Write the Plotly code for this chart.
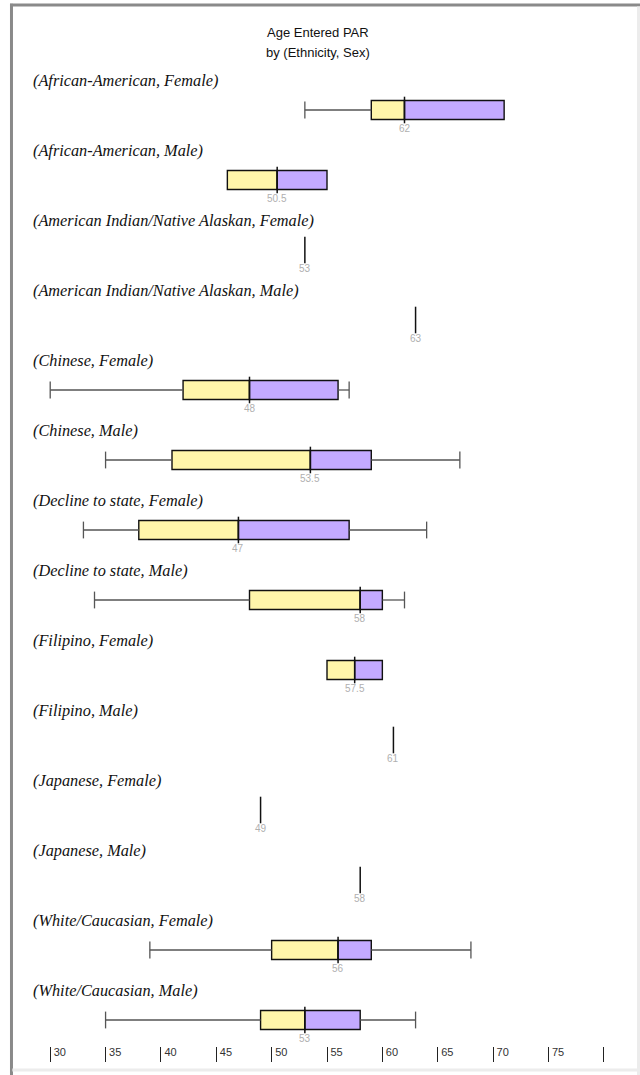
import plotly.graph_objects as go

groups = [
    "(African-American, Female)", "(African-American, Male)",
    "(American Indian/Native Alaskan, Female)", "(American Indian/Native Alaskan, Male)",
    "(Chinese, Female)", "(Chinese, Male)",
    "(Decline to state, Female)", "(Decline to state, Male)",
    "(Filipino, Female)", "(Filipino, Male)",
    "(Japanese, Female)", "(Japanese, Male)",
    "(White/Caucasian, Female)", "(White/Caucasian, Male)",
]
mins    = [53, 46,   53, 63, 30, 35,   33, 34, 55,   61, 49, 58, 39, 35]
q1s     = [59, 46,   53, 63, 42, 41,   38, 48, 55,   61, 49, 58, 50, 49]
medians = [62, 50.5, 53, 63, 48, 53.5, 47, 58, 57.5, 61, 49, 58, 56, 53]
q3s     = [71, 55,   53, 63, 56, 59,   57, 60, 60,   61, 49, 58, 59, 58]
maxs    = [71, 55,   53, 63, 57, 67,   64, 62, 60,   61, 49, 58, 68, 63]

tick_vals = [30, 35, 40, 45, 50, 55, 60, 65, 70, 75, 80]
tick_text = ["30", "35", "40", "45", "50", "55", "60", "65", "70", "75", ""]

title_lines = ["Age Entered PAR", "by (Ethnicity, Sex)"]

YELLOW = "#FFF6AA"
PURPLE = "#C4AAFF"
rows = list(range(len(groups)))

fig = go.Figure()

# lower half of box (Q1 -> median)
fig.add_trace(go.Bar(
    orientation="h", y=rows,
    base=[q if m > q else None for q, m in zip(q1s, medians)],
    x=[m - q if m > q else None for q, m in zip(q1s, medians)],
    width=0.27, marker=dict(color=YELLOW, line=dict(color="#111", width=1.4)),
    showlegend=False, hoverinfo="skip"))
# upper half of box (median -> Q3)
fig.add_trace(go.Bar(
    orientation="h", y=rows,
    base=[m if q > m else None for m, q in zip(medians, q3s)],
    x=[q - m if q > m else None for m, q in zip(medians, q3s)],
    width=0.27, marker=dict(color=PURPLE, line=dict(color="#111", width=1.4)),
    showlegend=False, hoverinfo="skip"))

# whiskers
wx, wy = [], []
for r, lo, q1, q3, hi in zip(rows, mins, q1s, q3s, maxs):
    if lo < q1:
        wx += [lo, q1, None]; wy += [r, r, None]
    if hi > q3:
        wx += [q3, hi, None]; wy += [r, r, None]
fig.add_trace(go.Scatter(x=wx, y=wy, mode="lines",
                         line=dict(color="#555", width=1.3),
                         showlegend=False, hoverinfo="skip"))
# whisker caps
cx, cy = [], []
for r, lo, q1, q3, hi in zip(rows, mins, q1s, q3s, maxs):
    if lo < q1:
        cx.append(lo); cy.append(r)
    if hi > q3:
        cx.append(hi); cy.append(r)
fig.add_trace(go.Scatter(x=cx, y=cy, mode="markers",
                         marker=dict(symbol="line-ns", size=12,
                                     line=dict(color="#555", width=1.3)),
                         showlegend=False, hoverinfo="skip"))
# medians
fig.add_trace(go.Scatter(x=medians, y=rows, mode="markers",
                         marker=dict(symbol="line-ns", size=19,
                                     line=dict(color="#111", width=1.5)),
                         showlegend=False, hoverinfo="skip"))

annotations = []
for r, g in zip(rows, groups):
    annotations.append(dict(
        x=0.0226, xref="paper", xanchor="left", y=r - 0.42, yref="y",
        yanchor="middle", text="<i>" + g + "</i>", showarrow=False,
        font=dict(family="Liberation Serif, Times New Roman, serif", size=16.3, color="#111")))
for r, m in zip(rows, medians):
    annotations.append(dict(
        x=m, xref="x", y=r, yref="y", yshift=-18.5, yanchor="middle",
        text=f"{m:g}", showarrow=False,
        font=dict(family="Liberation Sans, Arial, sans-serif", size=10, color="#b0b0b0")))
for i, (line, yp) in enumerate(zip(title_lines, [1.0138, 0.9941])):
    annotations.append(dict(
        x=0.4855, xref="paper", y=yp, yref="paper", yanchor="middle",
        text=line, showarrow=False,
        font=dict(family="Liberation Sans, Arial, sans-serif", size=13, color="#111")))

shapes = [
    dict(type="line", xref="paper", yref="paper", x0=-0.0089, x1=-0.0089,
         y0=-0.013, y1=1.0426, line=dict(color="#8a8a8a", width=3)),
    dict(type="line", xref="paper", yref="paper", x0=-0.0113, x1=1.01,
         y0=1.0414, y1=1.0414, line=dict(color="#8a8a8a", width=3)),
    dict(type="line", xref="paper", yref="paper", x0=1.0024, x1=1.0024,
         y0=-0.013, y1=1.0400, line=dict(color="#ececec", width=3)),
    dict(type="line", xref="paper", yref="paper", x0=-0.0075, x1=1.01,
         y0=-0.0079, y1=-0.0079, line=dict(color="#ececec", width=3)),
]

fig.update_layout(
    width=640, height=1075, autosize=False,
    margin=dict(l=17, r=3, t=47, b=13),
    paper_bgcolor="white", plot_bgcolor="white",
    barmode="overlay", showlegend=False,
    annotations=annotations, shapes=shapes,
    xaxis=dict(range=[27, 83], tickvals=tick_vals, ticktext=tick_text,
               ticks="inside", ticklen=15, tickwidth=1, tickcolor="#222",
               ticklabelposition="inside right", ticklabelstandoff=-2,
               ticklabelshift=3,
               tickfont=dict(family="Liberation Sans, Arial, sans-serif", size=11, color="#333"),
               showgrid=False, zeroline=False, showline=False, fixedrange=True),
    yaxis=dict(range=[13.6, -0.9], showticklabels=False, ticks="",
               showgrid=False, zeroline=False, showline=False, fixedrange=True),
)

fig.write_html("out.html", config={"displayModeBar": False},
               post_script="document.body.style.margin='0';document.body.style.overflow='hidden';")
